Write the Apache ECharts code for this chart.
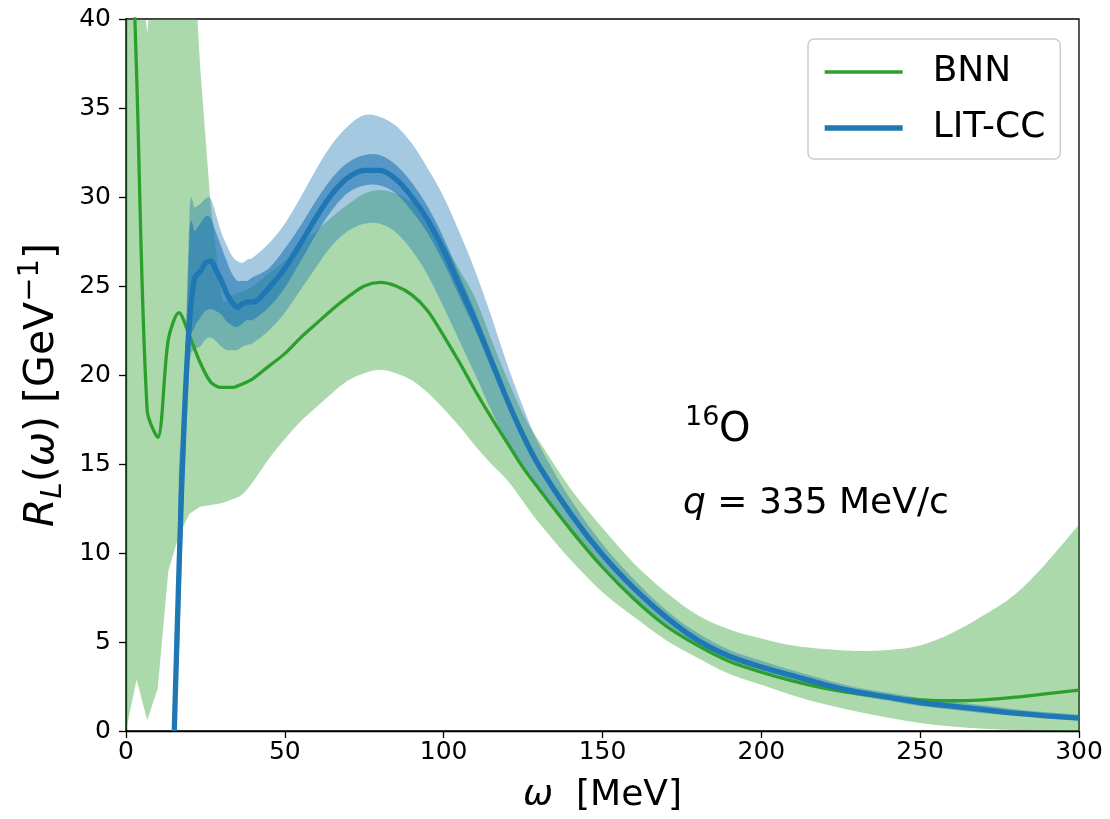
<!DOCTYPE html>
<html>
<head>
<meta charset="utf-8">
<script src="https://cdn.jsdelivr.net/npm/echarts@6/dist/echarts.min.js"></script>
<style>
  html, body { margin: 0; padding: 0; background: #ffffff; }
  #chart { width: 1110px; height: 819px; }
</style>
</head>
<body>
<div id="chart"></div>
<script>
// Longitudinal response function of 16O at q = 335 MeV/c

// BNN prediction: energy grid (MeV), central curve and uncertainty band (GeV^-1)
const omegaBNN = [0, 3.33, 6.67, 10, 13.33, 16.67, 20, 23.33, 26.67, 30, 33.33, 36.67, 40,
  45, 50, 55, 60, 65, 70, 75, 80, 85, 90, 95, 100, 105, 110, 115, 120, 125, 130,
  140, 150, 160, 170, 180, 190, 200, 210, 220, 230, 240, 250, 260, 270, 280, 290, 300];
const bnnCentral = [56, 37, 18.0, 16.5, 22.0, 23.5, 22.2, 20.7, 19.6, 19.3, 19.3, 19.5, 19.8,
  20.5, 21.2, 22.1, 22.9, 23.7, 24.4, 25.0, 25.2, 25.0, 24.5, 23.6, 22.2, 20.7, 19.1, 17.6, 16.2, 14.8, 13.6,
  11.3, 9.2, 7.4, 5.9, 4.8, 3.9, 3.3, 2.8, 2.4, 2.1, 1.9, 1.75, 1.7, 1.75, 1.9, 2.1, 2.3];
const bnnLower = [0, 2.9, 0.6, 2.4, 9.0, 11.0, 12.2, 12.6, 12.7, 12.8, 13.0, 13.3, 14.0,
  15.3, 16.4, 17.4, 18.2, 19.0, 19.7, 20.1, 20.3, 20.1, 19.7, 19.0, 18.1, 17.1, 16.0, 15.0, 14.1, 12.9, 11.7,
  9.6, 7.8, 6.4, 5.1, 4.1, 3.2, 2.6, 2.0, 1.5, 1.1, 0.75, 0.45, 0.25, 0.12, 0.05, 0.02, 0.0];
const bnnUpper = [60, 45, 39.2, 45, 60, 60, 48, 37.3, 29.5, 24.5, 24.5, 24.7, 25.0,
  25.7, 26.4, 27.3, 28.1, 28.9, 29.6, 30.2, 30.4, 30.2, 29.7, 28.8, 27.4, 25.9, 24.3, 22.0, 19.8, 17.8, 16.3,
  13.6, 11.4, 9.4, 7.8, 6.5, 5.7, 5.2, 4.8, 4.6, 4.5, 4.55, 4.8, 5.5, 6.5, 7.7, 9.5, 11.6];

// LIT-CC calculation: energy grid (MeV), central curve, inner and outer bands (GeV^-1)
const omegaLIT = [15.2, 16.67, 18.33, 20, 21.67, 23.33, 25, 26.67, 28.33, 30, 31.67, 33.33, 35,
  36.67, 38.33, 40, 45, 50, 55, 60, 65, 70, 75, 80, 85, 90, 95, 100, 105, 110, 115, 120, 125, 130,
  140, 150, 160, 170, 180, 190, 200, 210, 220, 230, 240, 250, 260, 270, 280, 290, 300];
const litCentral = [0, 9, 17.5, 23.0, 25.5, 25.8, 26.3, 26.4, 25.9, 25.3, 24.6, 24.1, 23.8,
  24.0, 24.1, 24.1, 24.9, 26.0, 27.4, 28.9, 30.2, 31.1, 31.5, 31.5, 31.0, 30.0, 28.7, 27.0, 25.0, 23.0, 20.8, 18.6, 16.6, 14.9,
  12.2, 9.9, 8.0, 6.4, 5.1, 4.2, 3.6, 3.1, 2.6, 2.2, 1.9, 1.6, 1.4, 1.2, 1.0, 0.85, 0.72];
const litOuterLower = [0, 4, 14.5, 20.5, 21.4, 21.6, 22.0, 22.1, 21.9, 21.6, 21.4, 21.4, 21.4,
  21.6, 21.7, 21.8, 22.5, 23.5, 24.8, 26.1, 27.3, 28.1, 28.5, 28.5, 28.0, 27.0, 25.6, 23.8, 21.9, 20.0, 18.0, 16.2, 14.7, 13.5,
  11.4, 9.3, 7.5, 6.0, 4.8, 4.0, 3.35, 2.85, 2.4, 2.0, 1.7, 1.4, 1.2, 1.0, 0.85, 0.7, 0.6];
const litOuterUpper = [0, 15, 19.5, 29.2, 29.4, 29.6, 29.9, 29.9, 29.0, 28.0, 27.3, 26.7, 26.4,
  26.3, 26.5, 26.6, 27.4, 28.5, 30.0, 31.6, 33.0, 34.0, 34.6, 34.5, 34.0, 33.0, 31.6, 30.0, 28.0, 25.8, 23.3, 20.6, 18.2, 16.1,
  13.0, 10.5, 8.5, 6.8, 5.5, 4.55, 3.95, 3.4, 2.9, 2.45, 2.15, 1.85, 1.65, 1.45, 1.22, 1.05, 0.92];
const litInnerLower = [0, 4.5, 15.5, 21.5, 22.7, 23.2, 23.6, 23.7, 23.6, 23.4, 23.0, 22.8, 22.7,
  22.9, 23.1, 23.1, 23.8, 24.9, 26.4, 27.95, 29.3, 30.25, 30.65, 30.65, 30.2, 29.2, 27.95, 26.3, 24.4, 22.5, 20.4, 18.3, 16.35, 14.7,
  12.05, 9.75, 7.87, 6.28, 5.0, 4.12, 3.53, 3.04, 2.55, 2.16, 1.87, 1.58, 1.38, 1.18, 0.98, 0.83, 0.7];
const litInnerUpper = [0, 14, 19, 28.0, 28.1, 28.5, 28.9, 28.8, 28.0, 27.2, 26.4, 25.7, 25.3,
  25.3, 25.3, 25.5, 26.0, 27.1, 28.4, 29.85, 31.1, 31.95, 32.35, 32.35, 31.8, 30.8, 29.45, 27.7, 25.6, 23.5, 21.2, 18.9, 16.85, 15.1,
  12.35, 10.05, 8.13, 6.52, 5.2, 4.28, 3.67, 3.16, 2.65, 2.24, 1.93, 1.62, 1.42, 1.22, 1.02, 0.87, 0.74];

// Axis ticks
const xTicks = { min: 0, max: 300, step: 50 };
const yTicks = { min: 0, max: 40, step: 5 };

const FONT = 'DejaVu Sans';
const GREEN = '#2ca02c';
const BLUE = '#1f77b4';

const pairs = (xs, ys) => xs.map((x, i) => [x, ys[i]]);

// Path segments through pixel points: straight where isSmooth is false, Catmull-Rom curves elsewhere
function traceSegments(pts, isSmooth) {
  let d = '';
  for (let i = 0; i < pts.length - 1; i++) {
    const p0 = pts[Math.max(i - 1, 0)], p1 = pts[i], p2 = pts[i + 1], p3 = pts[Math.min(i + 2, pts.length - 1)];
    if (isSmooth(i)) {
      const c1 = [p1[0] + (p2[0] - p0[0]) / 6, p1[1] + (p2[1] - p0[1]) / 6];
      const c2 = [p2[0] - (p3[0] - p1[0]) / 6, p2[1] - (p3[1] - p1[1]) / 6];
      d += ' C' + c1[0] + ',' + c1[1] + ' ' + c2[0] + ',' + c2[1] + ' ' + p2[0] + ',' + p2[1];
    } else {
      d += ' L' + p2[0] + ',' + p2[1];
    }
  }
  return d;
}

// Filled band between two curves, drawn as one closed path through the axis scales
function band(name, xs, lo, hi, fill, z, smoothFrom) {
  const rows = xs.map((x, i) => [x, lo[i], hi[i]]);
  const n = rows.length;
  return {
    name: name,
    type: 'custom',
    z: z,
    silent: true,
    clip: true,
    encode: { x: 0, y: [1, 2] },
    data: rows,
    renderItem: function (params, api) {
      if (params.dataIndex !== 0) return null;
      const top = rows.map(r => api.coord([r[0], r[2]]));
      const bottom = rows.map(r => api.coord([r[0], r[1]])).reverse();
      let d = 'M' + top[0][0] + ',' + top[0][1];
      d += traceSegments(top, i => i >= smoothFrom);
      d += ' L' + bottom[0][0] + ',' + bottom[0][1];
      d += traceSegments(bottom, j => (n - 2 - j) >= smoothFrom);
      d += ' Z';
      return {
        type: 'path',
        shape: { pathData: d },
        style: { fill: fill, stroke: null }
      };
    }
  };
}

const chart = echarts.init(document.getElementById('chart'), null, { renderer: 'canvas' });

chart.setOption({
  animation: false,
  backgroundColor: '#ffffff',
  grid: {
    left: 126, right: 31, top: 19, bottom: 88,
    show: true, borderColor: '#000000', borderWidth: 1.3, backgroundColor: 'transparent'
  },
  xAxis: {
    type: 'value',
    min: xTicks.min, max: xTicks.max, interval: xTicks.step,
    axisLine: { show: true, lineStyle: { color: '#000', width: 1.3 } },
    axisTick: { show: true, length: 7, lineStyle: { color: '#000', width: 1.3 } },
    axisLabel: { color: '#000', fontSize: 25, fontFamily: FONT, margin: 9 },
    splitLine: { show: false },
    name: '{i|ω}{n|  [MeV]}',
    nameLocation: 'middle',
    nameGap: 47,
    nameTextStyle: {
      color: '#000', fontSize: 36, fontFamily: FONT,
      rich: {
        i: { fontSize: 36, fontFamily: FONT, fontStyle: 'italic', color: '#000' },
        n: { fontSize: 36, fontFamily: FONT, color: '#000' }
      }
    }
  },
  yAxis: {
    type: 'value',
    min: yTicks.min, max: yTicks.max, interval: yTicks.step,
    axisLine: { show: true, lineStyle: { color: '#000', width: 1.3 } },
    axisTick: { show: true, length: 7, lineStyle: { color: '#000', width: 1.3 } },
    axisLabel: { color: '#000', fontSize: 25, fontFamily: FONT, margin: 15 },
    splitLine: { show: false },
    name: '{i|R}{s|L}{n|(}{i|ω}{n|) [GeV}{p|−1}{e|]}',
    nameLocation: 'middle',
    nameRotate: 90,
    nameGap: 54,
    nameTextStyle: {
      color: '#000', fontSize: 41, fontFamily: FONT,
      rich: {
        i: { fontSize: 41, fontFamily: FONT, fontStyle: 'italic', color: '#000' },
        n: { fontSize: 41, fontFamily: FONT, color: '#000' },
        e: { fontSize: 41, fontFamily: FONT, color: '#000', padding: [0, 20, 0, 0] },
        s: { fontSize: 29, fontFamily: FONT, fontStyle: 'italic', color: '#000', padding: [22, 0, 0, 0] },
        p: { fontSize: 29, fontFamily: FONT, color: '#000', padding: [0, 0, 24, 0] }
      }
    }
  },
  legend: {
    data: ['BNN', 'LIT-CC'],
    orient: 'vertical',
    left: 808, top: 39,
    padding: [15, 15, 13, 14],
    itemWidth: 78, itemHeight: 30, itemGap: 20,
    borderColor: '#cccccc', borderWidth: 1.5, borderRadius: 6,
    backgroundColor: '#ffffff',
    selectedMode: false,
    itemStyle: { opacity: 0 },
    lineStyle: { width: 'inherit' },
    textStyle: { color: '#000', fontSize: 36, fontFamily: FONT, padding: [0, 0, 0, 25] }
  },
  graphic: [
    { type: 'text', x: 685, y: 418, z: 100,
      style: { text: '16', fontSize: 27, fontFamily: FONT, fill: '#000', verticalAlign: 'middle' } },
    { type: 'text', x: 719, y: 431, z: 100,
      style: { text: 'O', fontSize: 40, fontFamily: FONT, fill: '#000', verticalAlign: 'middle' } },
    { type: 'text', x: 683, y: 504, z: 100,
      style: {
        text: '{i|q}{n| = 335 MeV/c}', fontSize: 36, fontFamily: FONT, fill: '#000', verticalAlign: 'middle',
        rich: {
          i: { fontSize: 36, fontFamily: FONT, fontStyle: 'italic', fill: '#000' },
          n: { fontSize: 36, fontFamily: FONT, fill: '#000' }
        }
      } }
  ],
  series: [
    band('BNN band', omegaBNN, bnnLower, bnnUpper, 'rgba(44,160,44,0.4)', 1, 9),
    band('LIT-CC outer band', omegaLIT, litOuterLower, litOuterUpper, 'rgba(31,119,180,0.4)', 2, 3),
    band('LIT-CC inner band', omegaLIT, litInnerLower, litInnerUpper, 'rgba(31,119,180,0.6)', 3, 3),
    {
      name: 'BNN', type: 'line', z: 4, clip: true,
      data: pairs(omegaBNN, bnnCentral),
      symbol: 'none', showSymbol: false,
      smooth: 0.3,
      lineStyle: { color: GREEN, width: 3.3 },
      itemStyle: { color: GREEN }
    },
    {
      name: 'LIT-CC', type: 'line', z: 5, clip: true,
      data: pairs(omegaLIT, litCentral),
      symbol: 'none', showSymbol: false,
      smooth: 0.3,
      lineStyle: { color: BLUE, width: 5.3 },
      itemStyle: { color: BLUE }
    }
  ]
});
</script>
</body>
</html>
